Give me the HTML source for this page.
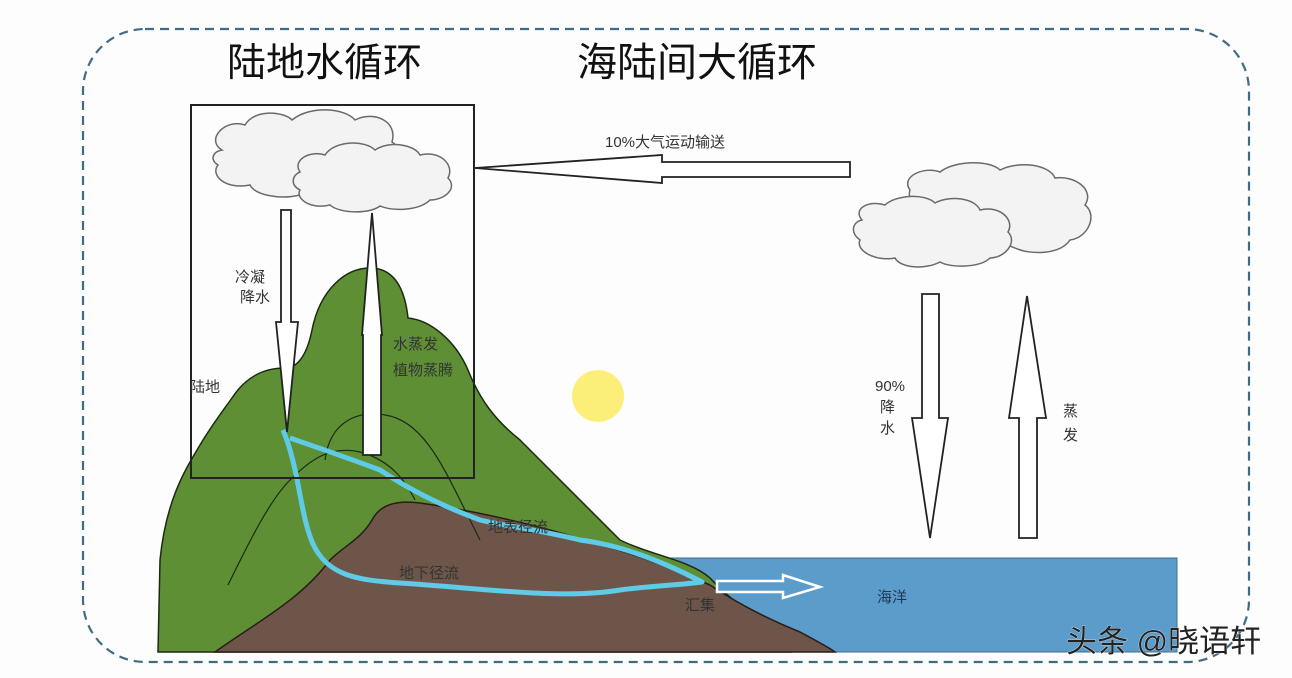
<!DOCTYPE html>
<html><head><meta charset="utf-8"><style>
html,body{margin:0;padding:0;background:#fdfdfe;}
svg{display:block;}
text{font-family:"Liberation Sans","Noto Sans CJK SC",sans-serif;}
</style></head><body>
<svg width="1292" height="678" viewBox="0 0 1292 678" xmlns="http://www.w3.org/2000/svg">
<rect x="0" y="0" width="1292" height="678" fill="#fdfdfe"/>
<rect x="83" y="29" width="1166" height="633" rx="62" ry="62" fill="none" stroke="#3f6c82" stroke-width="2.2" stroke-dasharray="9,6"/>
<text x="227" y="76" font-size="39" fill="#111">陆地水循环</text>
<text x="577" y="76" font-size="40" fill="#111">海陆间大循环</text>

<!-- sea -->
<rect x="660" y="558" width="517" height="94" fill="#5b9ccb" stroke="#3b6f95" stroke-width="1"/>
<!-- green mountains -->
<path d="M158,652 L160,560 C166,500 185,470 200,445 C212,425 222,412 232,398 C245,378 262,368 285,368 C300,368 308,350 312,330 C320,290 345,268 370,268 C395,268 405,290 408,318 C430,320 455,340 468,370 C480,400 495,420 520,440 C560,480 590,510 620,540 C650,555 690,560 710,578 C730,600 760,620 790,652 Z" fill="#5e8f35" stroke="#1b2a10" stroke-width="1.5"/>
<!-- brown ground -->
<path d="M215,652 C260,620 300,600 330,560 C345,545 360,540 372,520 C380,505 395,500 420,503 C470,510 540,525 600,545 C640,555 680,572 710,585 C740,605 770,620 800,632 C815,640 830,648 835,652 Z" fill="#6e554a" stroke="#2a1d18" stroke-width="1.5"/>
<!-- inner mountain lines -->
<path d="M228,585 C250,540 270,500 290,480 C310,460 330,445 360,452 C390,460 405,480 415,500" fill="none" stroke="#1b2a10" stroke-width="1.2"/>
<path d="M325,460 C330,420 360,410 385,415 C420,420 440,460 460,500 C470,520 475,530 480,540" fill="none" stroke="#1b2a10" stroke-width="1.2"/>
<!-- blue water lines -->
<path d="M283,430 C300,470 300,520 315,548 C330,575 355,580 400,583 C480,588 560,600 620,590 C650,586 680,585 702,582 C660,560 620,545 580,540 C540,530 500,525 480,520 C440,505 410,490 380,470 C340,455 310,445 290,438" fill="none" stroke="#5fcbe6" stroke-width="5" stroke-linejoin="round"/>
<!-- land box -->
<rect x="191" y="105" width="283" height="373" fill="none" stroke="#222" stroke-width="2"/>

<!-- clouds -->
<g fill="#f4f3f3" stroke="#6a6a6a" stroke-width="1.5">
<path d="M222,150 C205,140 225,118 245,125 C255,108 285,112 292,120 C310,105 345,108 355,120 C375,110 398,122 392,142 C405,150 400,170 385,172 L300,195 C280,200 255,195 250,185 C225,190 210,175 218,165 C210,160 212,152 222,150 Z"/>
<path d="M300,172 C292,160 310,150 325,155 C335,140 365,140 375,150 C390,140 415,145 420,155 C440,150 455,165 448,178 C458,188 445,200 430,200 C420,210 395,212 380,206 C370,214 340,214 330,205 C310,210 295,198 300,190 C290,185 292,175 300,172 Z"/>
<path d="M910,190 C900,176 925,166 940,172 C955,160 990,160 1000,170 C1020,160 1050,165 1055,178 C1075,175 1095,190 1085,205 C1098,215 1088,238 1070,240 C1060,255 1030,255 1015,248 L960,225 C930,220 905,205 910,190 Z"/>
<path d="M862,220 C852,208 870,200 885,205 C895,195 925,193 935,203 C950,195 975,198 980,210 C1000,205 1015,220 1008,232 C1018,242 1005,258 990,258 C980,268 950,268 940,262 C925,270 900,268 895,258 C875,262 855,250 860,240 C850,233 852,222 862,220 Z"/>
</g>

<!-- sun -->
<circle cx="598" cy="396" r="26" fill="#fbef7a"/>

<!-- arrows -->
<g fill="#fff" stroke="#222" stroke-width="1.8" stroke-linejoin="miter">
<polygon points="475,168 662,155 662,162 850,162 850,177 662,177 662,183"/>
<polygon points="281,210 291,210 291,322 298,322 287,432 276,322 281,322"/>
<polygon points="372,213 382,335 381,335 381,455 363,455 363,335 362,335"/>
<polygon points="922,294 939,294 939,418 948,418 930,538 912,418 922,418"/>
<polygon points="1027,296 1046,418 1037,418 1037,538 1019,538 1019,418 1009,418"/>
</g>
<polygon points="717,581 783,581 783,575 820,587 783,598 783,592 717,592" fill="#5b9ccb" stroke="#fff" stroke-width="2.5"/>

<!-- labels -->
<g font-size="15" fill="#333">
<text x="605" y="147">10%大气运动输送</text>
<text x="235" y="282">冷凝</text>
<text x="240" y="302">降水</text>
<text x="393" y="349">水蒸发</text>
<text x="393" y="375">植物蒸腾</text>
<text x="190" y="392">陆地</text>
<text x="488" y="532">地表径流</text>
<text x="399" y="578">地下径流</text>
<text x="685" y="610">汇集</text>
<text x="875" y="391">90%</text>
<text x="880" y="412">降</text>
<text x="880" y="433">水</text>
<text x="1063" y="416">蒸</text>
<text x="1063" y="440">发</text>
<text x="877" y="602" fill="#1e3a55">海洋</text>
</g>
<text x="1066" y="652" font-size="31" fill="#222" stroke="#fff" stroke-width="0.6" paint-order="stroke">头条 @晓语轩</text>
</svg>
</body></html>
